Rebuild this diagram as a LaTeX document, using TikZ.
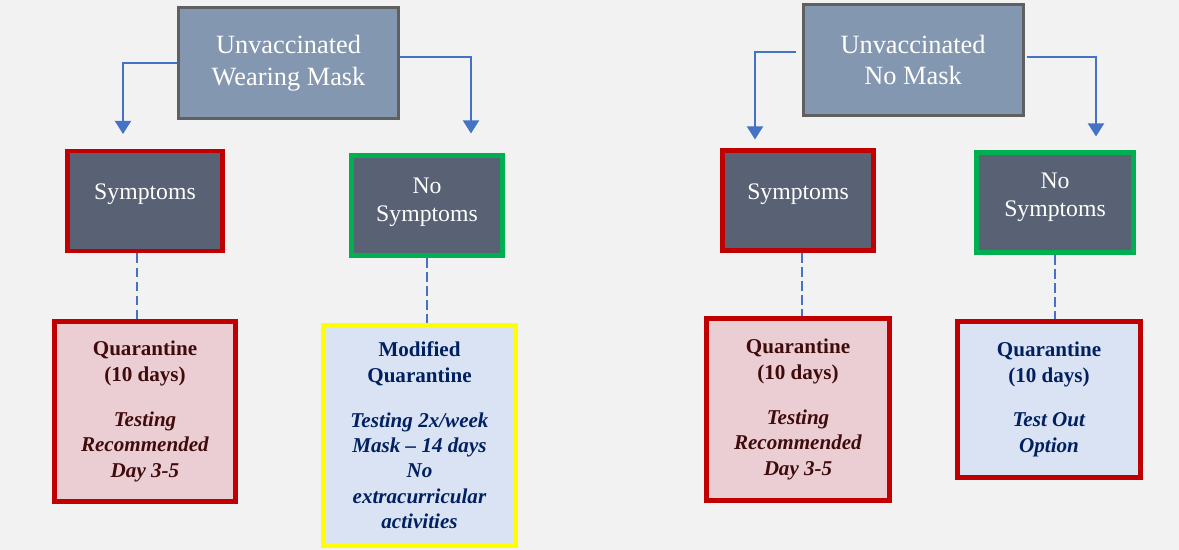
\documentclass[tikz,border=0pt]{standalone}
\usepackage{fontspec}
\setmainfont{Liberation Serif}
\usetikzlibrary{arrows.meta,positioning,calc}
\definecolor{bgcolor}{HTML}{F2F2F2}
\definecolor{topfill}{HTML}{8497B0}
\definecolor{topline}{HTML}{606060}
\definecolor{darkfill}{HTML}{586274}
\definecolor{redline}{HTML}{C00000}
\definecolor{greenline}{HTML}{00B050}
\definecolor{yellowline}{HTML}{FFFF00}
\definecolor{pinkfill}{HTML}{EBCED4}
\definecolor{bluefill}{HTML}{DAE3F3}
\definecolor{redtext}{HTML}{3F0B0B}
\definecolor{navytext}{HTML}{002060}
\definecolor{linkcolor}{HTML}{4472C4}

\begin{document}
\begin{tikzpicture}[
    topbox/.style={rectangle, draw=topline, fill=topfill, line width=1.7pt, minimum width=4.40cm, minimum height=2.22cm, align=center, text=white, font=\fontsize{15}{18}\selectfont},
    casebox/.style={rectangle, fill=darkfill, line width=2.8pt, minimum height=2.0cm, align=center, text=white, font=\fontsize{13.5}{16}\selectfont},
    quarbox/.style={rectangle, line width=2.8pt, align=center, font=\fontsize{12}{14.5}\selectfont},
    arrow/.style={-{Triangle[width=9pt,length=7.5pt]}, draw=linkcolor, line width=1.5pt},
    link/.style={draw=linkcolor, line width=1.4pt, dash pattern=on 5.5pt off 2.5pt}
]

% Background
\fill[bgcolor] (0,0) rectangle (23.58,-11);
\useasboundingbox (0,0) rectangle (23.58,-11);

% ============ Left tree ============

\node[topbox] (top1) at (5.77,-1.26) {Unvaccinated\\Wearing Mask};
\node[casebox, draw=redline, minimum width=3.10cm] (s1) at (2.90,-4.02) {Symptoms\\[-0.2cm]};
\node[casebox, draw=greenline, minimum width=3.02cm] (ns1) at (8.54,-4.11) {No\\Symptoms\\[-0.33cm]};
\node[quarbox, draw=redline, fill=pinkfill, text=redtext, minimum width=3.62cm, minimum height=3.60cm] (q1) at (2.90,-8.23)
    {\textbf{Quarantine}\\\textbf{(10 days)}\\[11pt]\textbf{\textit{Testing}}\\\textbf{\textit{Recommended}}\\\textbf{\textit{Day 3-5}}};
\node[quarbox, draw=yellowline, fill=bluefill, text=navytext, minimum width=3.84cm, minimum height=4.40cm] (m1) at (8.39,-8.71)
    {\textbf{Modified}\\\textbf{Quarantine}\\[11pt]\textbf{\textit{Testing 2x/week}}\\\textbf{\textit{Mask – 14 days}}\\\textbf{\textit{No}}\\\textbf{\textit{extracurricular}}\\\textbf{\textit{activities}}};

\draw[arrow] (top1.west) -| ([xshift=-0.44cm, yshift=0.29cm]s1.north);
\draw[arrow] ([yshift=0.12cm]top1.east) -| ([xshift=0.88cm, yshift=0.39cm]ns1.north);
\draw[link] ([xshift=-0.16cm]s1.south) -- ([xshift=-0.16cm]s1.south |- q1.north);
\draw[link] (ns1.south) -- (ns1.south |- m1.north);

% ============ Right tree ============

\node[topbox] (top2) at (18.26,-1.20) {Unvaccinated\\No Mask};
\node[casebox, draw=redline, minimum width=3.02cm] (s2) at (15.96,-4.01) {Symptoms\\[-0.2cm]};
\node[casebox, draw=greenline, minimum width=3.14cm] (ns2) at (21.10,-4.05) {No\\Symptoms\\[-0.24cm]};
\node[quarbox, draw=redline, fill=pinkfill, text=redtext, minimum width=3.66cm, minimum height=3.64cm] (q2) at (15.96,-8.19)
    {\textbf{Quarantine}\\\textbf{(10 days)}\\[11pt]\textbf{\textit{Testing}}\\\textbf{\textit{Recommended}}\\\textbf{\textit{Day 3-5}}};
\node[quarbox, draw=redline, fill=bluefill, text=navytext, minimum width=3.66cm, minimum height=3.12cm] (q3) at (20.98,-7.99)
    {\textbf{Quarantine}\\\textbf{(10 days)}\\[11pt]\textbf{\textit{Test Out}}\\\textbf{\textit{Option}}};

\draw[arrow] ([xshift=-0.12cm, yshift=0.16cm]top2.west) -| ([xshift=-0.86cm, yshift=0.17cm]s2.north);
\draw[arrow] ([xshift=0.04cm, yshift=0.06cm]top2.east) -| ([xshift=0.82cm, yshift=0.27cm]ns2.north);
\draw[link] ([xshift=0.08cm]s2.south) -- ([xshift=0.08cm]s2.south |- q2.north);
\draw[link] (ns2.south) -- (ns2.south |- q3.north);

\end{tikzpicture}
\end{document}
